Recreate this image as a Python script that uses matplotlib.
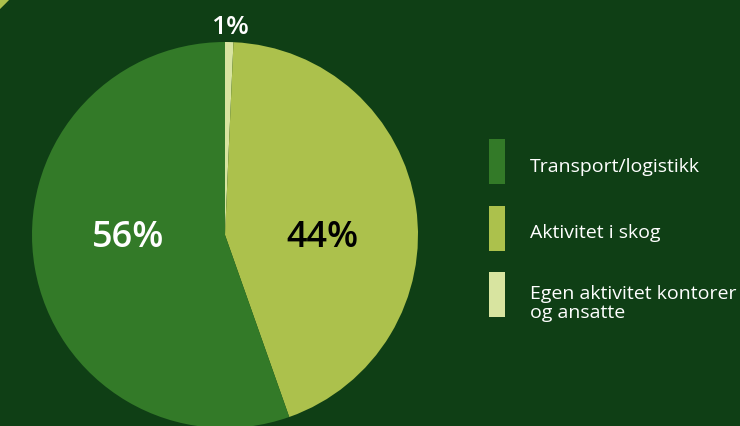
import matplotlib
matplotlib.use("Agg")
import matplotlib.pyplot as plt
from matplotlib.patches import Rectangle, Circle

# Data (clockwise from 12 o'clock)
categories = ["Egen aktivitet kontorer\nog ansatte", "Aktivitet i skog", "Transport/logistikk"]
values = [0.7, 43.9, 55.4]
pct_labels = ["1%", "44%", "56%"]
colors = ["#d8e4a0", "#acc14c", "#337a28"]
legend_order = [2, 1, 0]

BG = "#0f3f15"
W, H = 740, 427

fig = plt.figure(figsize=(7.4, 4.27), dpi=100)
fig.patch.set_facecolor(BG)
ax = fig.add_axes([0, 0, 1, 1])

# decorative corner shape
ax.add_patch(Circle((-200, 627), 290, color="#acc14c", lw=0, zorder=1))

cx, cy, r = 225, H - 236, 193
wedges, _ = ax.pie(values, colors=colors, startangle=90, counterclock=False,
                   center=(cx, cy), radius=r, frame=True,
                   wedgeprops=dict(linewidth=0))
ax.set_xlim(0, W)
ax.set_ylim(0, H)
ax.set_aspect("equal")
ax.axis("off")

fam = ["Open Sans", "DejaVu Sans"]
ax.text(128, H - 238, pct_labels[2], color="white", fontsize=26, fontweight="semibold",
        ha="center", va="center", family=fam)
ax.text(322, H - 238, pct_labels[1], color="black", fontsize=26, fontweight="semibold",
        ha="center", va="center", family=fam)
ax.text(230, H - 28, pct_labels[0], color="white", fontsize=19, fontweight="semibold",
        ha="center", va="center", family=fam)

# legend
patch_tops = [140, 207, 273]
baselines = [172, 238, 318]
for top, base, idx in zip(patch_tops, baselines, legend_order):
    ax.add_patch(Rectangle((489, H - top - 45), 16, 45, color=colors[idx], lw=0))
    ax.text(530, H - base, categories[idx], color="white", fontsize=14,
            ha="left", va="baseline", family=fam, linespacing=1.05)

fig.savefig("out.png", dpi=100, facecolor=BG)
